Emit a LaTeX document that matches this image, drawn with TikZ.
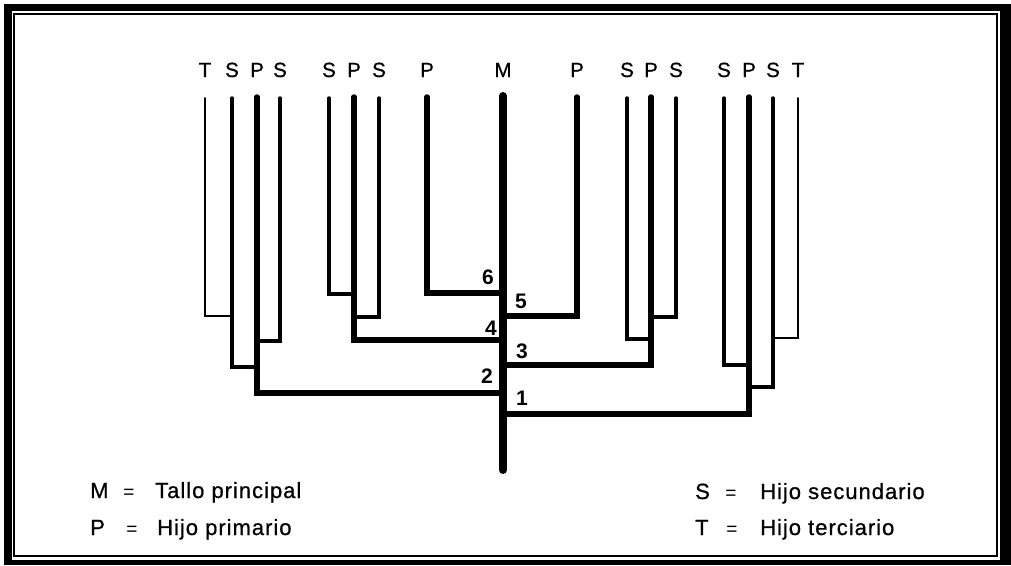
\documentclass[tikz,border=0pt]{standalone}
\usepackage{fontspec}
\setmainfont{Liberation Sans}
\newfontfamily\medfont[FakeBold=0.7]{Liberation Sans}
\begin{document}
\begin{tikzpicture}[x=1pt,y=-1pt,
  br/.style={line cap=round, line join=miter},
  tline/.style={br, line width=2pt},
  sline/.style={br, line width=3.5pt},
  pline/.style={br, line width=5.5pt},
  mline/.style={br, line width=8pt},
  lab/.style={inner sep=0pt, anchor=base, font=\medfont\fontsize{20.5}{20.5}\selectfont},
  num/.style={inner sep=0pt, font=\fontsize{21}{21}\selectfont\bfseries},
  legk/.style={inner sep=0pt, anchor=base west, font=\medfont\fontsize{22}{22}\selectfont},
  legeq/.style={inner sep=0pt, anchor=base, font=\fontsize{19}{19}\selectfont},
  legt/.style={inner sep=0pt, anchor=base west, font=\medfont\fontsize{22}{22}\selectfont\addfontfeature{LetterSpace=4.5}}]
\useasboundingbox (0,0) rectangle (1011,565);
% frame
\fill[black] (4,4) rectangle (1011,565);
\fill[white] (12,11) rectangle (1000,559.5);
\draw[line width=1.4pt] (13.8,13.8) rectangle (996.8,556);

% top labels
\node[lab] (lT1) at (205,77) {T};
\node[lab] (lS1) at (232,77) {S};
\node[lab] (lP1) at (257,77) {P};
\node[lab] (lS2) at (280,77) {S};
\node[lab] (lS3) at (329,77) {S};
\node[lab] (lP2) at (354,77) {P};
\node[lab] (lS4) at (379,77) {S};
\node[lab] (lP3) at (427,77) {P};
\node[lab] (lM)  at (503,77) {M};
\node[lab] (lP4) at (577,77) {P};
\node[lab] (lS5) at (627,77) {S};
\node[lab] (lP5) at (651,77) {P};
\node[lab] (lS6) at (676,77) {S};
\node[lab] (lS7) at (724,77) {S};
\node[lab] (lP6) at (749,77) {P};
\node[lab] (lS8) at (773,77) {S};
\node[lab] (lT2) at (798,77) {T};

% tops of stems
\coordinate (tT1) at (205,98);
\coordinate (tS1) at (232,98);
\coordinate (tP1) at (257,97);
\coordinate (tS2) at (280,98);
\coordinate (tS3) at (329,98);
\coordinate (tP2) at (354,97);
\coordinate (tS4) at (379,98);
\coordinate (tP3) at (427,97);
\coordinate (tM)  at (503,96);
\coordinate (tP4) at (577,97);
\coordinate (tS5) at (627,98);
\coordinate (tP5) at (651,97);
\coordinate (tS6) at (676,98);
\coordinate (tS7) at (724,98);
\coordinate (tP6) at (749,97);
\coordinate (tS8) at (773,98);
\coordinate (tT2) at (798,98);

% attachment points
\coordinate (aT1) at (232,316);
\coordinate (aS1) at (257,367);
\coordinate (aS2) at (257,341);
\coordinate (aS3) at (354,294);
\coordinate (aS4) at (354,317);
\coordinate (aS5) at (651,339);
\coordinate (aS6) at (651,317);
\coordinate (aS7) at (749,365);
\coordinate (aS8) at (749,387);
\coordinate (aT2) at (773,338);
\coordinate (m1) at (503,414);
\coordinate (m2) at (503,393);
\coordinate (m3) at (503,365);
\coordinate (m4) at (503,340);
\coordinate (m5) at (503,316);
\coordinate (m6) at (503,293);
\coordinate (mB) at (503,470);

% tertiary
\draw[tline] (tT1) |- (aT1);
\draw[tline] (tT2) |- (aT2);
% secondary
\draw[sline] (tS1) |- (aS1);
\draw[sline] (tS2) |- (aS2);
\draw[sline] (tS3) |- (aS3);
\draw[sline] (tS4) |- (aS4);
\draw[sline] (tS5) |- (aS5);
\draw[sline] (tS6) |- (aS6);
\draw[sline] (tS7) |- (aS7);
\draw[sline] (tS8) |- (aS8);
% primary
\draw[pline] (tP1) |- (m2);
\draw[pline] (tP2) |- (m4);
\draw[pline] (tP3) |- (m6);
\draw[pline] (tP4) |- (m5);
\draw[pline] (tP5) |- (m3);
\draw[pline] (tP6) |- (m1);
% main stem
\draw[mline] (tM) -- (mB);

% order numbers
\node[num] (n6) at (488,277) {6};
\node[num] (n5) at (521,301) {5};
\node[num] (n4) at (491,328) {4};
\node[num] (n3) at (522,351) {3};
\node[num] (n2) at (487,376) {2};
\node[num] (n1) at (522,398) {1};

% legend
\node[legk] (kM) at (90,498) {M};
\node[legeq] (eM) at (129,498) {=};
\node[legt] (dM) at (155,498) {Tallo principal};
\node[legk] (kP) at (90,535) {P};
\node[legeq] (eP) at (132,535) {=};
\node[legt] (dP) at (157,535) {Hijo primario};
\node[legk] (kS) at (695,499) {S};
\node[legeq] (eS) at (731,499) {=};
\node[legt] (dS) at (760,499) {Hijo secundario};
\node[legk] (kT) at (695,535) {T};
\node[legeq] (eT) at (732,535) {=};
\node[legt] (dT) at (760,535) {Hijo terciario};
\end{tikzpicture}
\end{document}
